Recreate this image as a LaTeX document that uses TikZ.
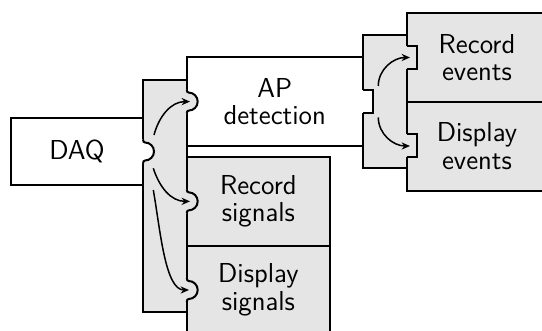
\documentclass[tikz,border=0pt]{standalone}
\usepackage{tikz}
\usetikzlibrary{arrows.meta}
\definecolor{boxgray}{RGB}{229, 229, 229}

\tikzset{
  blk/.style={draw, line width=1pt, font=\sffamily\fontsize{13.7}{13.7}\selectfont, align=center, inner sep=0pt},
  flow/.style={line width=0.75pt, -{Stealth[length=4.2pt, width=3.6pt]}},
}

% round tab: x, y, fill colour
\newcommand{\roundtab}[3]{%
  \fill[#3] (#1-1.2, #2+12) -- (#1, #2+12) .. controls (#1, #2+10) and (#1+1, #2+9) .. (#1+2, #2+9)
    arc[start angle=90, end angle=-90, radius=9]
    .. controls (#1+1, #2-9) and (#1, #2-10) .. (#1, #2-12) -- (#1-1.2, #2-12) -- cycle;
  \draw[line width=1pt] (#1, #2+12) .. controls (#1, #2+10) and (#1+1, #2+9) .. (#1+2, #2+9)
    arc[start angle=90, end angle=-90, radius=9]
    .. controls (#1+1, #2-9) and (#1, #2-10) .. (#1, #2-12);
}
% square tab: x, y, fill colour
\newcommand{\recttab}[3]{%
  \fill[#3] (#1-1.2, #2+11.5) rectangle (#1+10, #2-11.5);
  \draw[line width=1pt] (#1, #2+11.5) -- (#1+10, #2+11.5) -- (#1+10, #2-11.5) -- (#1, #2-11.5);
}

\begin{document}
\begin{tikzpicture}[x=0.5pt, y=0.5pt]
  \useasboundingbox (0, 0) rectangle (542, 331);
  \clip (0, 0) rectangle (542, 331);

  % Outputs
  \node[blk, fill=boxgray, minimum width=70.3pt, minimum height=44.2pt] (recev) at (477, 273.5) {Record\\events};
  \node[blk, fill=boxgray, minimum width=70.3pt, minimum height=44.5pt] (dispev) at (477, 184.8) {Display\\events};
  \node[blk, fill=boxgray, minimum width=71.65pt, minimum height=44.65pt] (recsig) at (258.35, 129.65) {Record\\signals};
  \node[blk, fill=boxgray, minimum width=71.65pt, minimum height=44pt] (dispsig) at (258.35, 41) {Display\\signals};

  % Sources
  \node[blk, fill=white, minimum width=88pt, minimum height=44.1pt] (ap) at (274.7, 229.4) {AP\\detection};
  \node[blk, fill=white, minimum width=66pt, minimum height=33.5pt] (daq) at (77, 179.5) {DAQ};

  % Hubs
  \node[blk, fill=boxgray, minimum width=21.85pt, minimum height=116.15pt] (sighub) at (164.85, 134.85) {};
  \node[blk, fill=boxgray, minimum width=22pt, minimum height=66.65pt] (evhub) at (384.7, 229.35) {};

  % Tabs
  \recttab{406.7}{273.5}{boxgray}
  \recttab{406.7}{185}{boxgray}
  \recttab{362.7}{229.4}{white}
  \roundtab{186.7}{229.4}{boxgray}
  \roundtab{186.7}{129.65}{boxgray}
  \roundtab{186.7}{41}{boxgray}
  \roundtab{143}{179.5}{white}

  % Arrows
  \coordinate (daq-up) at (154, 196);
  \coordinate (daq-mid) at (153.3, 162.7);
  \coordinate (daq-low) at (153.3, 141);
  \coordinate (ap-in) at (190, 229.4);
  \coordinate (recsig-in) at (190, 129.65);
  \coordinate (dispsig-in) at (189, 41);
  \coordinate (ev-up) at (378.3, 245);
  \coordinate (ev-low) at (378.3, 213.7);
  \coordinate (recev-in) at (410, 273.5);
  \coordinate (dispev-in) at (410, 185);

  \draw[flow] (daq-up) to[out=75, in=180] (ap-in);
  \draw[flow] (daq-mid) to[out=-72, in=180] (recsig-in);
  \draw[flow] (daq-low) .. controls +(-80:40) and +(-24, 0) .. (dispsig-in);
  \draw[flow] (ev-up) to[out=90, in=180] (recev-in);
  \draw[flow] (ev-low) to[out=-90, in=180] (dispev-in);
\end{tikzpicture}
\end{document}
